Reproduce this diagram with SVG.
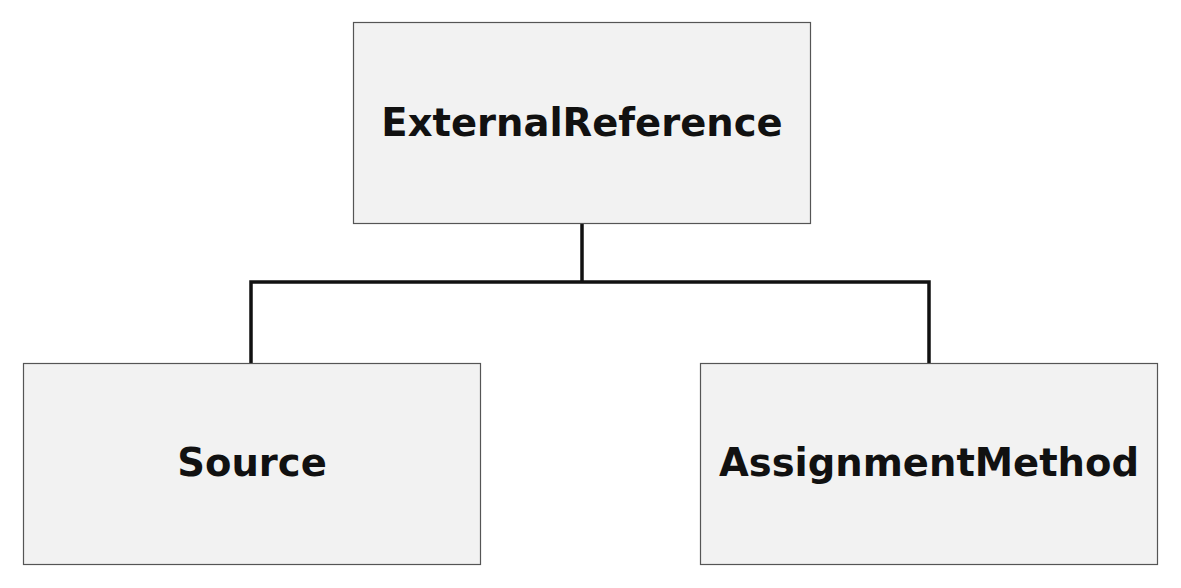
<svg xmlns="http://www.w3.org/2000/svg" width="1181" height="588" viewBox="0 0 1181 588">
<style>
.box{fill:#f2f2f2;stroke:#555555;stroke-width:1.2}
.lbl{font-family:"DejaVu Sans",sans-serif;font-weight:bold;font-size:38.5px;fill:#111111;text-anchor:middle}
.conn{fill:none;stroke:#111111;stroke-width:3.5;stroke-linejoin:miter}
</style>
<rect width="1181" height="588" fill="#ffffff"/>
<g id="connectors">
<path class="conn" d="M582,223 V282 M251,363 V282 H929 V363"/>
</g>
<g id="ExternalReference">
<rect class="box" x="353.5" y="22.5" width="457" height="201"/>
<text class="lbl" x="582" y="136">ExternalReference</text>
</g>
<g id="Source">
<rect class="box" x="23.5" y="363.5" width="457" height="201"/>
<text class="lbl" x="252" y="476">Source</text>
</g>
<g id="AssignmentMethod">
<rect class="box" x="700.5" y="363.5" width="457" height="201"/>
<text class="lbl" x="929" y="476">AssignmentMethod</text>
</g>
</svg>
